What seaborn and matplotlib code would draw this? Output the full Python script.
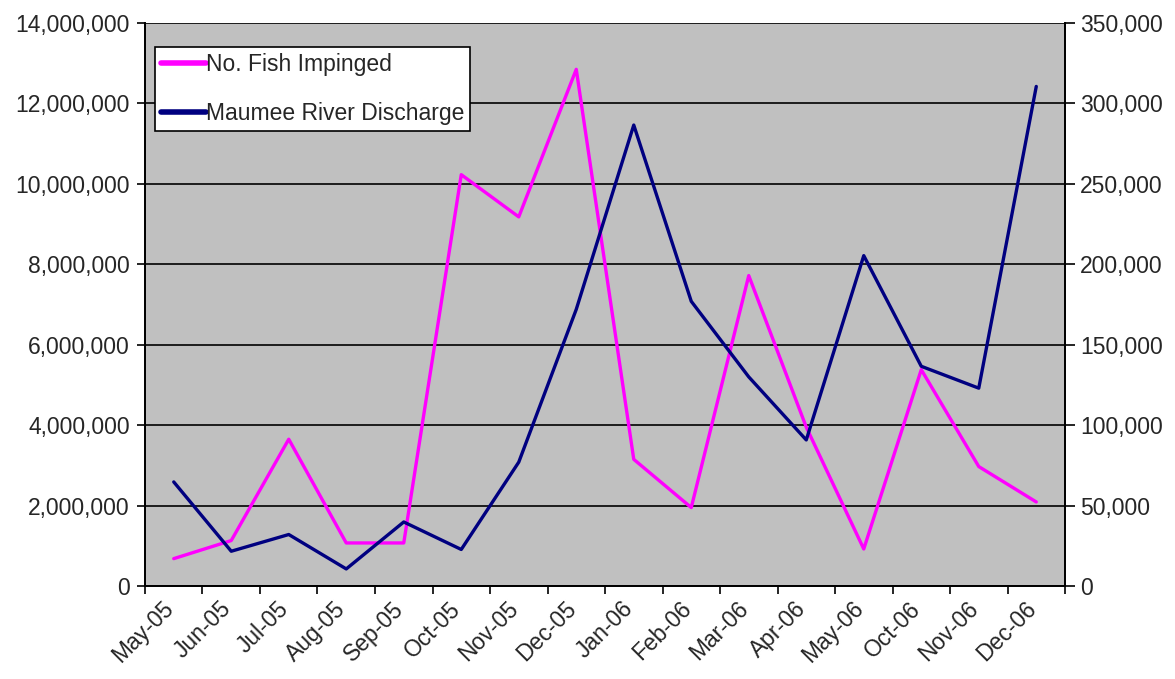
import seaborn as sns
import pandas as pd
import numpy as np
import matplotlib.pyplot as plt
import matplotlib.transforms as mtransforms
from matplotlib.ticker import StrMethodFormatter, FixedLocator
from matplotlib.lines import Line2D

# data
months = ["May-05", "Jun-05", "Jul-05", "Aug-05", "Sep-05", "Oct-05", "Nov-05", "Dec-05",
          "Jan-06", "Feb-06", "Mar-06", "Apr-06", "May-06", "Oct-06", "Nov-06", "Dec-06"]
fish_impinged = [680000, 1130000, 3650000, 1070000, 1070000, 10230000, 9180000, 12850000,
                 3150000, 1950000, 7720000, 3950000, 920000, 5380000, 2970000, 2090000]
river_discharge = [64700, 21600, 32000, 10600, 39800, 22700, 77000, 172000,
                   286600, 177000, 130000, 90800, 205400, 136600, 123000, 310600]

df = pd.DataFrame({"pos": np.arange(len(months)), "month": months,
                   "fish": fish_impinged, "discharge": river_discharge})

sns.set_style("white")
plt.rcParams["font.family"] = ["Liberation Sans", "DejaVu Sans"]
fs = 16.5

fig = plt.figure(figsize=(11.75, 6.79), dpi=100)
ax = fig.add_axes([0.1234, 0.137, 0.783, 0.829])
ax.set_facecolor("#C0C0C0")

pink = "#FF00FF"
navy = "#000080"

sns.lineplot(data=df, x="pos", y="fish", ax=ax, color=pink, linewidth=2.4, legend=False)
ax2 = ax.twinx()
sns.lineplot(data=df, x="pos", y="discharge", ax=ax2, color=navy, linewidth=2.4, legend=False)

# axes ranges / ticks
ax.set_xlim(-0.5, len(months) - 0.5)
ax.set_ylim(0, 14000000)
ax2.set_ylim(0, 350000)
ax.set_yticks(np.arange(0, 14000001, 2000000))
ax2.set_yticks(np.arange(0, 350001, 50000))
ax.yaxis.set_major_formatter(StrMethodFormatter("{x:,.0f}"))
ax2.yaxis.set_major_formatter(StrMethodFormatter("{x:,.0f}"))

ax.grid(axis="y", color="black", linewidth=1.2)
ax.set_axisbelow(True)

ax.xaxis.set_major_locator(FixedLocator(np.arange(-0.5, len(months), 1.0)))
ax.xaxis.set_major_formatter(plt.NullFormatter())
ax.xaxis.set_minor_locator(FixedLocator(df["pos"]))
ax.set_xticklabels(months, minor=True, rotation=45, ha="right", rotation_mode="anchor")
ax.tick_params(axis="x", which="minor", length=0, pad=8, labelsize=fs)
ax.tick_params(axis="x", which="major", direction="out", length=6, width=1.2, color="black", bottom=True)
ax.tick_params(axis="y", direction="out", length=6, width=1.2, color="black", left=True, labelsize=fs, pad=5)
ax2.tick_params(axis="y", direction="out", length=7, width=1.2, color="black", right=True, labelsize=fs, pad=4)

# shift the rotated month labels a little to the left, like Excel does
shift = mtransforms.ScaledTranslation(-12 / 100, 0, fig.dpi_scale_trans)
for lbl in ax.get_xticklabels(minor=True):
    lbl.set_transform(lbl.get_transform() + shift)

ax.set_xlabel("")
ax.set_ylabel("")
ax2.set_ylabel("")

for a in (ax, ax2):
    a.spines["top"].set_visible(False)
    for s in ("left", "right", "bottom"):
        a.spines[s].set_color("black")
        a.spines[s].set_linewidth(1.3)

handles = [Line2D([0], [0], color=pink, linewidth=4),
           Line2D([0], [0], color=navy, linewidth=4)]
leg = ax2.legend(handles, ["No. Fish Impinged", "Maumee River Discharge"],
                 loc="upper left", bbox_to_anchor=(0.011, 0.957), fontsize=fs,
                 frameon=True, fancybox=False, edgecolor="black", framealpha=1,
                 handlelength=1.95, handletextpad=0.0, borderpad=0.25,
                 labelspacing=1.15, borderaxespad=0)
leg.get_frame().set_linewidth(1.2)

fig.savefig("out.png", dpi=100, facecolor="white")
